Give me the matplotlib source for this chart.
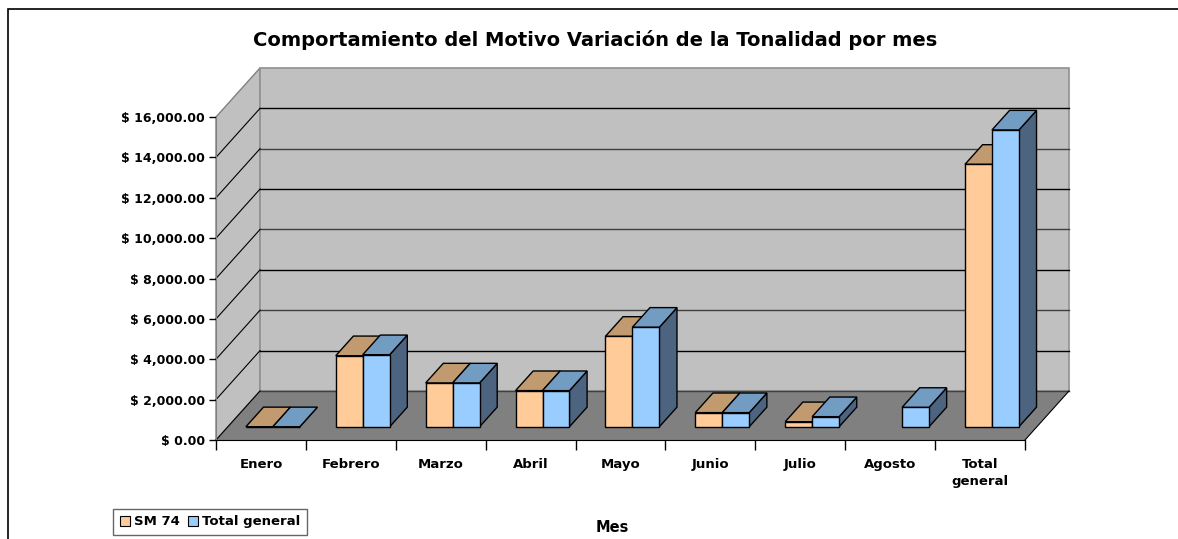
import matplotlib
matplotlib.use("Agg")
import matplotlib.pyplot as plt
from matplotlib.patches import Polygon, Rectangle, Patch
import numpy as np

meses = ["Enero", "Febrero", "Marzo", "Abril", "Mayo", "Junio", "Julio", "Agosto", "Total\ngeneral"]
sm74 = [0, 3520, 2170, 1790, 4480, 700, 250, np.nan, 13000]
total_general = [0, 3570, 2170, 1790, 4930, 700, 500, 960, 14700]
series_names = ["SM 74", "Total general"]
yticks = list(range(0, 16001, 2000))

plt.rcParams['font.family'] = ['DejaVu Sans']
plt.rcParams['font.weight'] = 'bold'

fig = plt.figure(figsize=(11.78, 5.39), dpi=100)
# axes = front plane of the 3d box
ax = fig.add_axes([216/1178, 99/539, 809/1178, 323/539])
ax.patch.set_visible(False)
ax.set_xlim(0, 9)
ax.set_ylim(0, 16000)

DX = 0.49     # depth offset, category units
DY = 2430     # depth offset, value units
ymax = 16000
n = len(meses)

wall = "#c0c0c0"
floor = "#808080"

# side wall, back wall, floor
ax.add_patch(Polygon([(0, 0), (DX, DY), (DX, ymax + DY), (0, ymax)], closed=True,
                     facecolor=wall, edgecolor="#808080", lw=1, clip_on=False, zorder=0))
ax.add_patch(Polygon([(DX, DY), (n + DX, DY), (n + DX, ymax + DY), (DX, ymax + DY)], closed=True,
                     facecolor=wall, edgecolor="#909090", lw=1.2, clip_on=False, zorder=0))
ax.add_patch(Polygon([(0, 0), (n, 0), (n + DX, DY), (DX, DY)], closed=True,
                     facecolor=floor, edgecolor="none", clip_on=False, zorder=0.5))

# gridlines
for v in yticks[:-1]:
    ax.plot([DX, n + DX], [v + DY, v + DY], color="#000000" if v % 4000 else "#404040",
            lw=1, clip_on=False, zorder=1)
    ax.plot([0, DX], [v, v + DY], color="#000000", lw=0.8, clip_on=False, zorder=1)
ax.plot([n, n + DX], [0, DY], color="#000000", lw=0.8, clip_on=False, zorder=1)

# bars
d0, d1 = 0.27, 0.67
bw = 0.3
colors = [("#ffcc99", "#c19a6f", "#99795a"), ("#99ccff", "#739cc2", "#4d6480")]
for i in range(n):
    for s, vals in enumerate([sm74, total_general]):
        v = vals[i]
        if np.isnan(v):
            continue
        front, top, side = colors[s]
        x0 = i + 0.2 + bw * s
        x1 = x0 + bw
        ax.add_patch(Polygon([(x1 + d0*DX, d0*DY), (x1 + d1*DX, d1*DY), (x1 + d1*DX, v + d1*DY),
                              (x1 + d0*DX, v + d0*DY)], closed=True, facecolor=side,
                             edgecolor="black", lw=1, clip_on=False, zorder=2))
        ax.add_patch(Polygon([(x0 + d0*DX, v + d0*DY), (x1 + d0*DX, v + d0*DY), (x1 + d1*DX, v + d1*DY),
                              (x0 + d1*DX, v + d1*DY)], closed=True, facecolor=top,
                             edgecolor="black", lw=1, clip_on=False, zorder=2))
        ax.add_patch(Polygon([(x0 + d0*DX, d0*DY), (x1 + d0*DX, d0*DY), (x1 + d0*DX, v + d0*DY),
                              (x0 + d0*DX, v + d0*DY)], closed=True, facecolor=front,
                             edgecolor="black", lw=1, clip_on=False, zorder=2))

for sp in ["top", "right"]:
    ax.spines[sp].set_visible(False)
ax.spines["left"].set_color("#808080")
ax.spines["bottom"].set_color("black")
ax.spines["left"].set_zorder(3)
ax.spines["bottom"].set_zorder(3)

ax.set_yticks(yticks)
ax.set_yticklabels(["$ {:,.2f}".format(v) for v in yticks])
ax.tick_params(axis="y", length=5, width=1, color="black", labelsize=9, pad=3)
ax.set_xticks(np.arange(n + 1))
ax.set_xticklabels([])
ax.tick_params(axis="x", which="major", length=7, width=1, color="black")
ax.set_xticks(np.arange(n) + 0.5, minor=True)
ax.set_xticklabels(meses, minor=True, fontsize=9.5, fontweight="bold", linespacing=1.4)
ax.tick_params(axis="x", which="minor", length=0, pad=13)

fig.text(0.505, 0.926, "Comportamiento del Motivo Variación de la Tonalidad por mes",
         ha="center", va="center", fontsize=14, fontweight="bold")
fig.text(612/1178, 11/539, "Mes", ha="center", va="center", fontsize=10.5, fontweight="bold")

handles = [Patch(facecolor=colors[0][0], edgecolor="black", lw=0.8),
           Patch(facecolor=colors[1][0], edgecolor="black", lw=0.8)]
leg = fig.legend(handles, series_names, loc="lower left", bbox_to_anchor=(113/1178, 4/539),
                 ncol=2, fontsize=9.5, frameon=True, fancybox=False, borderaxespad=0,
                 handlelength=0.8, handleheight=0.8, handletextpad=0.3, columnspacing=0.6,
                 borderpad=0.5)
leg.get_frame().set_edgecolor("#404040")
leg.get_frame().set_linewidth(1)

# outer chart border
fig.patches.append(Rectangle((8/1178, -0.1), 1.2, (539 - 9)/539 + 0.1, transform=fig.transFigure,
                             fill=False, edgecolor="black", lw=1.2))

fig.savefig("out.png", dpi=100)
